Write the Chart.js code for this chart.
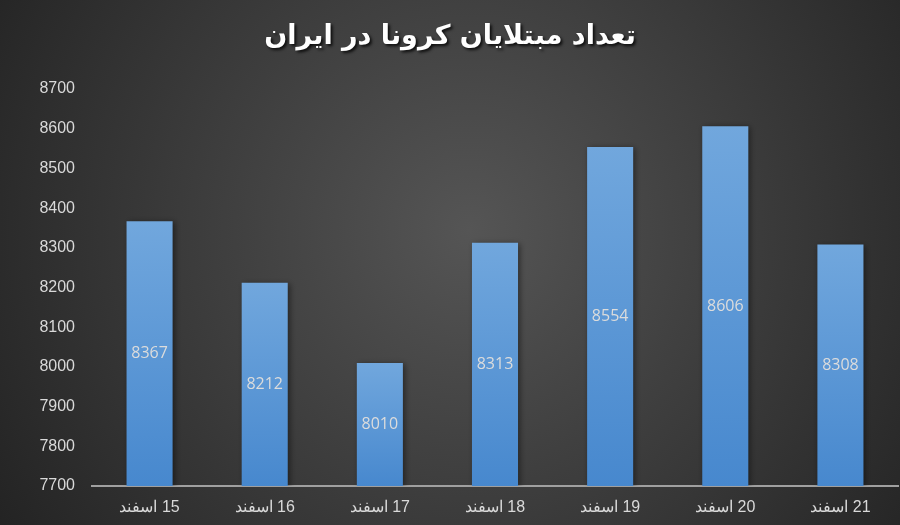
<!DOCTYPE html>
<html lang="fa">
<head>
<meta charset="utf-8">
<script src="https://cdn.jsdelivr.net/npm/chart.js@4/dist/chart.umd.min.js"></script>
<style>
  html, body { margin: 0; padding: 0; background: #2b2b2b; }
  #wrap { width: 900px; height: 525px; }
</style>
</head>
<body>
<div id="wrap"><canvas id="coronaChart"></canvas></div>
<script>
/* ----- dati ----- */
const chartTitle = "تعداد مبتلایان کرونا در ایران";
const days = ["15 اسفند", "16 اسفند", "17 اسفند", "18 اسفند", "19 اسفند", "20 اسفند", "21 اسفند"];
const cases = [8367, 8212, 8010, 8313, 8554, 8606, 8308];
const yMin = 7700;
const yMax = 8700;
const yStep = 100;

/* ----- sfondo radiale ----- */
const backgroundPlugin = {
  id: "radialBg",
  beforeDraw(chart) {
    const ctx = chart.ctx;
    const g = ctx.createRadialGradient(470, 230, 0, 470, 230, 560);
    g.addColorStop(0, "#555555");
    g.addColorStop(1, "#232323");
    ctx.save();
    ctx.fillStyle = g;
    ctx.fillRect(0, 0, chart.width, chart.height);
    ctx.restore();
  },
};

/* ----- ombra delle barre ----- */
const shadowPlugin = {
  id: "barShadow",
  beforeDatasetDraw(chart) {
    const ctx = chart.ctx;
    ctx.save();
    ctx.shadowColor = "rgba(0, 0, 0, 0.45)";
    ctx.shadowBlur = 6;
    ctx.shadowOffsetX = 2;
    ctx.shadowOffsetY = 1;
  },
  afterDatasetDraw(chart) {
    chart.ctx.restore();
  },
};

/* ----- etichette, asse x e titolo ----- */
const textPlugin = {
  id: "texts",
  afterDraw(chart) {
    const ctx = chart.ctx;
    const meta = chart.getDatasetMeta(0);
    ctx.save();
    ctx.font = "16px 'Open Sans'";
    ctx.fillStyle = "#dcdcdc";
    ctx.textAlign = "center";
    ctx.textBaseline = "middle";
    meta.data.forEach((bar, i) => {
      ctx.fillText(String(cases[i]), bar.x, (bar.y + bar.base) / 2);
    });
    ctx.restore();

    // etichette dei giorni, da destra a sinistra
    const xScale = chart.scales.x;
    ctx.save();
    ctx.direction = "rtl";
    ctx.font = "16px 'Liberation Sans'";
    ctx.fillStyle = "#d9d9d9";
    ctx.textAlign = "center";
    ctx.textBaseline = "middle";
    days.forEach((d, i) => {
      ctx.fillText("\u200F" + d, xScale.getPixelForValue(i), chart.chartArea.bottom + 22);
    });
    ctx.restore();

    ctx.save();
    ctx.direction = "rtl";
    ctx.font = "bold 27px 'DejaVu Sans'";
    ctx.fillStyle = "#ffffff";
    ctx.textAlign = "center";
    ctx.textBaseline = "middle";
    ctx.shadowColor = "rgba(0, 0, 0, 0.8)";
    ctx.shadowBlur = 3;
    ctx.shadowOffsetX = 2;
    ctx.shadowOffsetY = 2;
    ctx.fillText(chartTitle, 450, 37);
    ctx.restore();
  },
};

function barGradient(context) {
  const chart = context.chart;
  const area = chart.chartArea;
  const yScale = chart.scales.y;
  if (!area || !yScale || context.type !== "data") return "#5b9bd5";
  const top = yScale.getPixelForValue(cases[context.dataIndex]);
  const g = chart.ctx.createLinearGradient(0, top, 0, area.bottom);
  g.addColorStop(0, "#71a7dd");
  g.addColorStop(1, "#4788ce");
  return g;
}

const coronaChart = new Chart("coronaChart", {
  type: "bar",
  data: {
    labels: days,
    datasets: [
      {
        data: cases,
        base: yMin,
        backgroundColor: barGradient,
        borderWidth: 0,
        categoryPercentage: 0.8,
        barPercentage: 0.5,
      },
    ],
  },
  options: {
    responsive: true,
    maintainAspectRatio: false,
    animation: false,
    layout: { padding: { top: 89, right: 2, left: 0, bottom: 0 } },
    plugins: {
      legend: { display: false },
      title: { display: false },
      tooltip: { enabled: false },
    },
    scales: {
      x: {
        grid: { display: false },
        border: { display: true, color: "#a0a0a0", width: 2 },
        ticks: { display: false },
        afterFit(scale) {
          scale.height = 39;
        },
      },
      y: {
        min: yMin,
        max: yMax,
        grid: { display: false },
        border: { display: false },
        ticks: {
          stepSize: yStep,
          color: "#d9d9d9",
          font: { family: "'Liberation Sans'", size: 16 },
          padding: 9,
          callback: (v) => String(v),
        },
        afterFit(scale) {
          scale.width = 92;
        },
      },
    },
  },
  plugins: [backgroundPlugin, shadowPlugin, textPlugin],
});
</script>
</body>
</html>
